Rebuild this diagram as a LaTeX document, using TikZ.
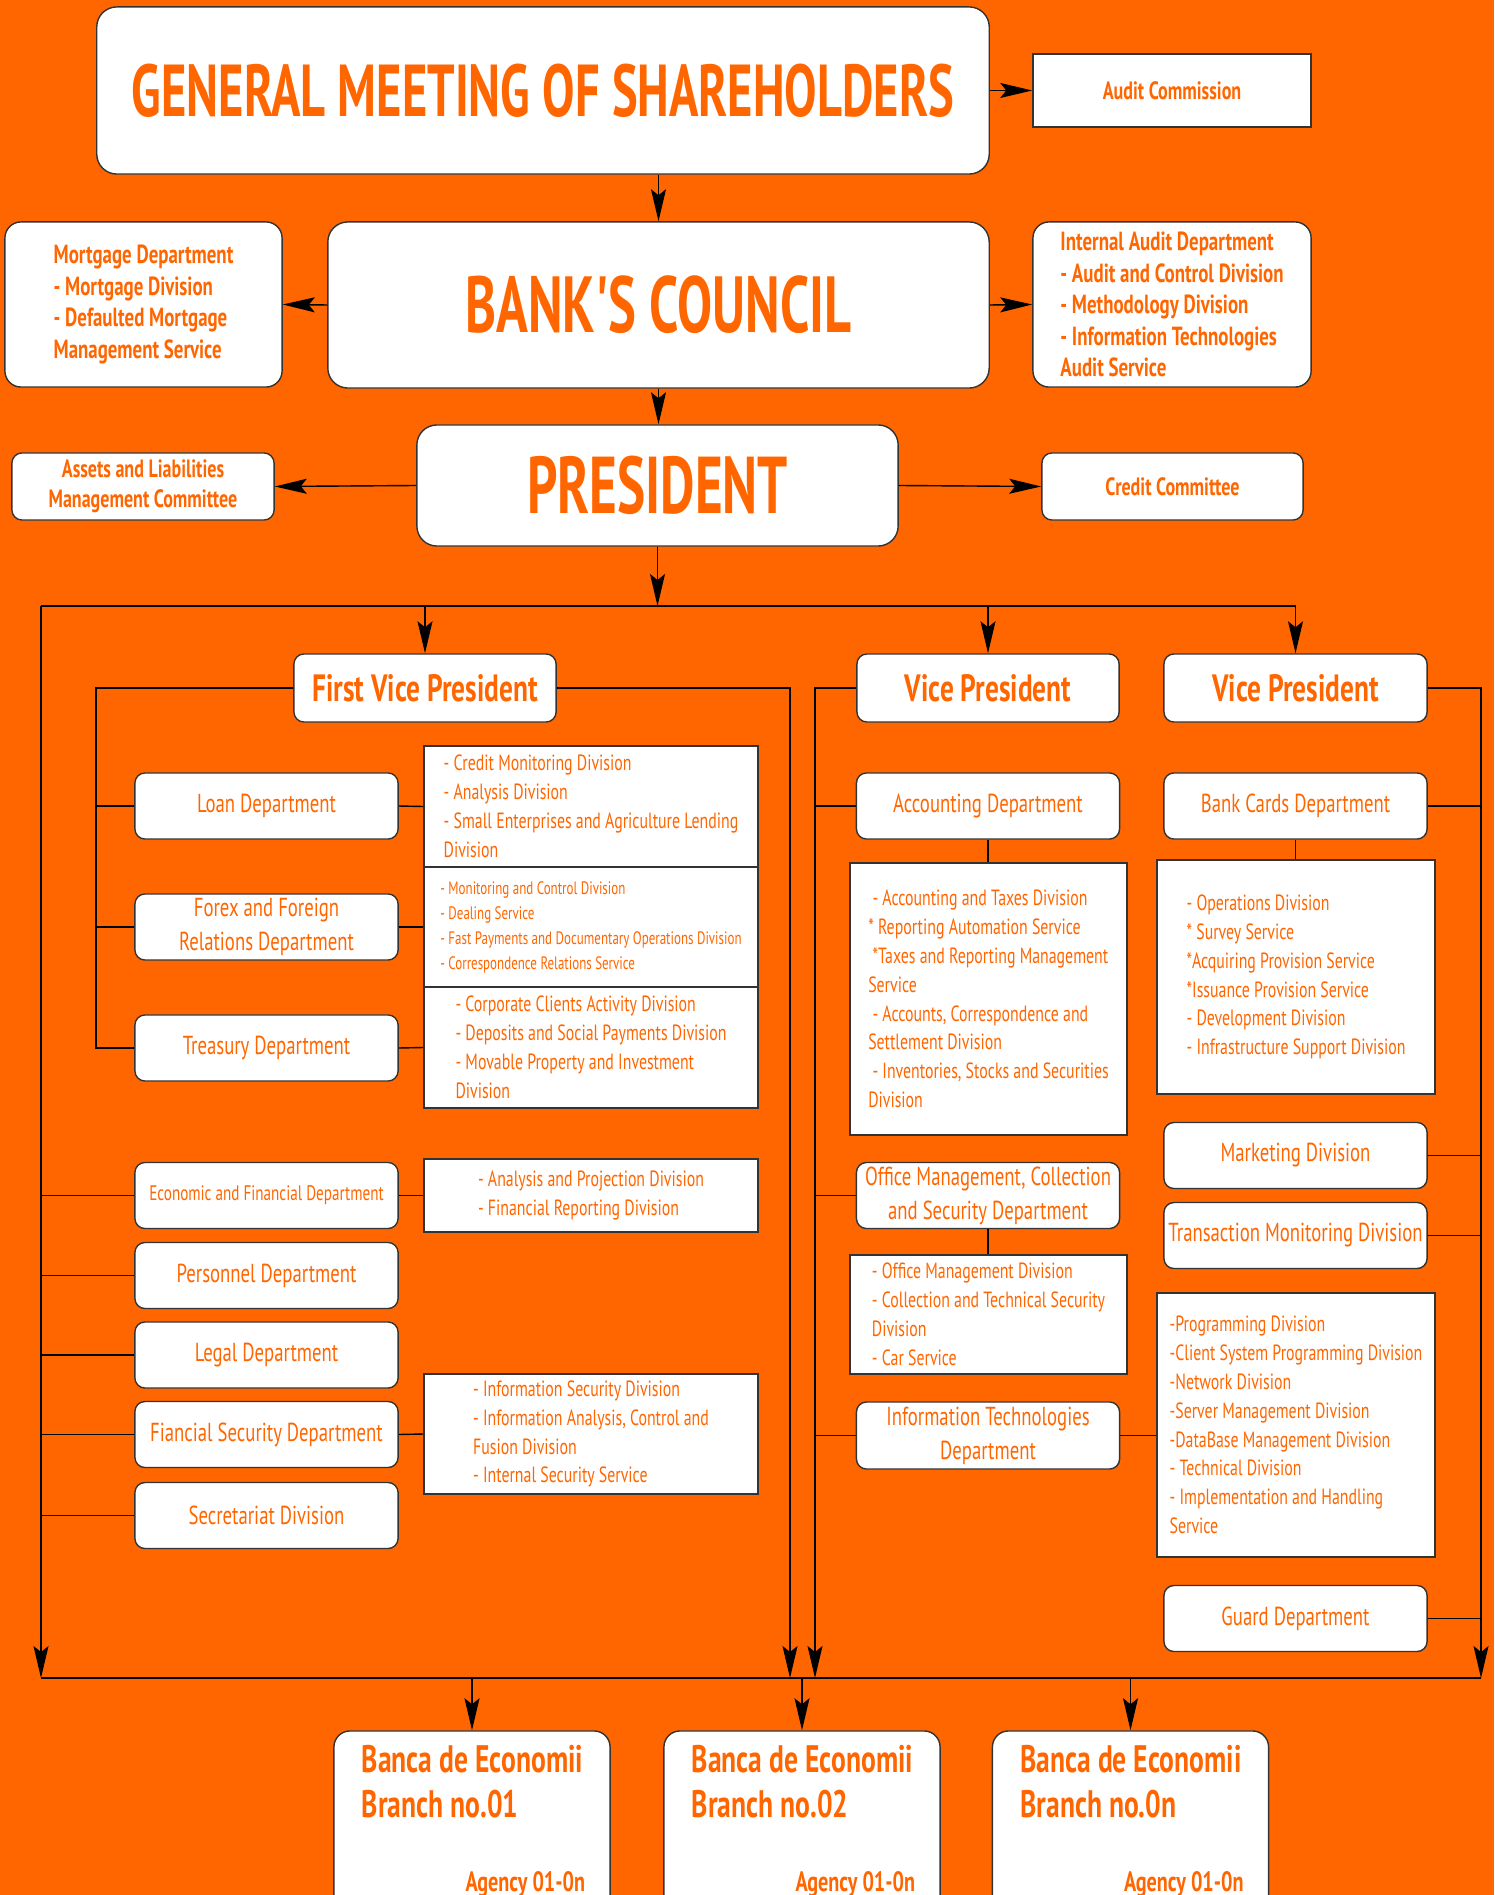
\documentclass[tikz,border=0pt]{standalone}
\usepackage{fontspec}
\setmainfont[FakeStretch=0.72]{PT Sans}
\newfontfamily\titlefont[FakeStretch=0.66]{PT Sans}
\usetikzlibrary{arrows.meta}

\definecolor{bgorange}{HTML}{FF6600}
\definecolor{txtorange}{HTML}{FF6600}
\definecolor{boxline}{HTML}{333333}

\newcommand\fsz[2]{\fontsize{#1}{#2}\selectfont}

\tikzset{
  box/.style={draw=boxline, fill=white, line width=0.4pt, inner sep=0pt, text=txtorange, align=center},
  bigbox/.style={box, rounded corners=2mm, font=\titlefont\bfseries\fsz{7.35mm}{7.5mm}},
  sidebox/.style={box, rounded corners=1.6mm, align=left, font=\bfseries\fsz{2.62mm}{3.15mm}},
  smallbox/.style={box, minimum height=0.67cm, font=\bfseries\fsz{2.5mm}{3.0mm}},
  deptbox/.style={box, rounded corners=1mm, minimum width=2.63cm, minimum height=0.66cm, font=\fsz{2.6mm}{3.4mm}},
  vpbox/.style={deptbox, minimum height=0.68cm, font=\bfseries\fsz{3.8mm}{4mm}},
  listbox/.style={box, align=left, font=\fsz{2.2mm}{2.88mm}},
  branchbox/.style={box, rounded corners=1.6mm, minimum width=2.76cm, minimum height=1.99cm},
  branchtxt/.style={text=txtorange, inner sep=0pt, align=left, anchor=north west, font=\bfseries\fsz{3.83mm}{4.5mm}},
  agencytxt/.style={text=txtorange, inner sep=0pt, anchor=base east, font=\bfseries\fsz{2.8mm}{3mm}},
  wire/.style={line width=0.4pt},
  arr/.style={wire, -{Stealth[length=3.2mm, width=1.5mm, inset=0.6mm]}}
}

\begin{document}
\begin{tikzpicture}[x=0.01cm, y=-0.01cm]
\useasboundingbox (0,0) rectangle (1494,1895);
\clip (0,0) rectangle (1494,1895);
\fill[bgorange] (0,0) rectangle (1494,1895);

% top of the hierarchy
\node[bigbox, minimum width=8.92cm, minimum height=1.67cm] (gms) at (543,90.5) {GENERAL MEETING OF SHAREHOLDERS};
\node[smallbox, minimum width=2.78cm, minimum height=0.73cm] (audit) at (1172,90.5) {Audit Commission};
\node[bigbox, minimum width=6.61cm, minimum height=1.66cm, font=\titlefont\bfseries\fsz{7.95mm}{8mm}] (council) at (658.5,305) {BANK'S COUNCIL};
\node[sidebox, minimum width=2.77cm, minimum height=1.65cm] (mortgage) at (143.5,304.5) {Mortgage Department\\- Mortgage Division\\- Defaulted Mortgage\\Management Service};
\node[sidebox, minimum width=2.78cm, minimum height=1.65cm] (intaudit) at (1172,304.5) {Internal Audit Department\\- Audit and Control Division\\- Methodology Division\\- Information Technologies\\Audit Service};
\node[bigbox, minimum width=4.81cm, minimum height=1.21cm, font=\titlefont\bfseries\fsz{8.05mm}{8mm}] (president) at (657.5,485.5) {PRESIDENT};
\node[smallbox, rounded corners=1mm, minimum width=2.62cm] (assets) at (143,486.5) {Assets and Liabilities\\Management Committee};
\node[smallbox, rounded corners=1mm, minimum width=2.61cm] (credit) at (1172.5,486.5) {Credit Committee};

\draw[arr] (gms.east) -- (audit.west);
\draw[arr] (gms.south -| council.north) -- (council.north);
\draw[arr] (council.west) -- (mortgage.east);
\draw[arr] (council.east) -- (intaudit.west);
\draw[arr] (council.south) -- (council.south |- president.north);
\draw[arr] (president.west) -- (assets.east);
\draw[arr] (president.east) -- (credit.west);

% vice presidents
\node[vpbox, minimum width=2.62cm] (fvp) at (425,688) {First Vice President};
\node[vpbox, minimum width=2.62cm] (vp1) at (988,688) {Vice President};
\node[vpbox, minimum width=2.63cm] (vp2) at (1295.5,688) {Vice President};

\coordinate (busL) at (41,606);
\coordinate (busR) at (1296,606);
\draw[arr] (president.south) -- (president.south |- busL);
\draw[wire] (busL) -- (busR);
\draw[arr] (fvp.north |- busL) -- (fvp.north);
\draw[arr] (vp1.north |- busL) -- (vp1.north);
\draw[arr] (vp2.north |- busL) -- (vp2.north);

% first vice president
\node[deptbox] (loan) at (266.5,806) {Loan Department};
\node[deptbox] (forex) at (266.5,927) {Forex and Foreign\\Relations Department};
\node[deptbox] (treasury) at (266.5,1048) {Treasury Department};
\node[deptbox, font=\fsz{2.1mm}{2.6mm}] (econ) at (266.5,1195.5) {Economic and Financial Department};
\node[deptbox] (personnel) at (266.5,1275.5) {Personnel Department};
\node[deptbox] (legal) at (266.5,1355) {Legal Department};
\node[deptbox] (finsec) at (266.5,1434.5) {Fiancial Security Department};
\node[deptbox] (secret) at (266.5,1515.5) {Secretariat Division};

\node[listbox, minimum width=3.34cm, minimum height=1.21cm] (loandet) at (591,806.5) {- Credit Monitoring Division\\- Analysis Division\\- Small Enterprises and Agriculture Lending\\Division};
\node[listbox, minimum width=3.34cm, minimum height=1.2cm, font=\fsz{1.8mm}{2.5mm}] (forexdet) at (591,927) {- Monitoring and Control Division\\- Dealing Service\\- Fast Payments and Documentary Operations Division\\- Correspondence Relations Service};
\node[listbox, minimum width=3.34cm, minimum height=1.21cm] (treasdet) at (591,1047.5) {- Corporate Clients Activity Division\\- Deposits and Social Payments Division\\- Movable Property and Investment\\Division};
\node[listbox, minimum width=3.34cm, minimum height=0.73cm] (econdet) at (591,1195.5) {- Analysis and Projection Division\\- Financial Reporting Division};
\node[listbox, minimum width=3.34cm, minimum height=1.2cm] (finsecdet) at (591,1434) {- Information Security Division\\- Information Analysis, Control and\\Fusion Division\\- Internal Security Service};

\coordinate (fvpspine) at (96,688);
\draw[wire] (fvp.west) -| (fvpspine |- treasury.west) -- (treasury.west);
\draw[wire] (fvpspine |- loan.west) -- (loan.west);
\draw[wire] (fvpspine |- forex.west) -- (forex.west);
\foreach \d in {econ,personnel,legal,finsec,secret}
  \draw[wire] (busL |- \d.west) -- (\d.west);
\foreach \d/\t in {loan/loandet,forex/forexdet,treasury/treasdet,econ/econdet,finsec/finsecdet}
  \draw[wire] (\d.east) -- (\t.west);

% vice president (accounting)
\node[deptbox] (acc) at (988,806) {Accounting Department};
\node[deptbox] (office) at (988,1195.5) {Office Management, Collection\\and Security Department};
\node[deptbox, minimum height=0.67cm] (itdept) at (988,1435.5) {Information Technologies\\Department};
\node[listbox, minimum width=2.77cm, minimum height=2.72cm] (accdet) at (988.5,999) {~- Accounting and Taxes Division\\* Reporting Automation Service\\~*Taxes and Reporting Management\\Service\\~- Accounts, Correspondence and\\Settlement Division\\~- Inventories, Stocks and Securities\\Division};
\node[listbox, minimum width=2.77cm, minimum height=1.19cm] (officedet) at (988.5,1314.5) {- Office Management Division\\- Collection and Technical Security\\Division\\- Car Service};

\draw[wire] (acc.south) -- (acc.south |- accdet.north);
\draw[wire] (office.south) -- (office.south |- officedet.north);

% vice president (cards, IT)
\node[deptbox] (cards) at (1295.5,806) {Bank Cards Department};
\node[listbox, minimum width=2.78cm, minimum height=2.34cm] (cardsdet) at (1296,977) {- Operations Division\\* Survey Service\\*Acquiring Provision Service\\*Issuance Provision Service\\- Development Division\\- Infrastructure Support Division};
\node[deptbox] (marketing) at (1295.5,1155.5) {Marketing Division};
\node[deptbox] (transmon) at (1295.5,1235.5) {Transaction Monitoring Division};
\node[listbox, minimum width=2.78cm, minimum height=2.64cm] (itdet) at (1296,1425) {-Programming Division\\-Client System Programming Division\\-Network Division\\-Server Management Division\\-DataBase Management Division\\- Technical Division\\- Implementation and Handling\\Service};
\node[deptbox] (guard) at (1295.5,1618.5) {Guard Department};

\draw[wire] (cards.south) -- (cards.south |- cardsdet.north);
\draw[wire] (itdept.east) -- (itdept.east -| itdet.west);

% collecting lines and branches
\coordinate (botL) at (41,1678);
\coordinate (botR) at (1481,1678);
\coordinate (fvpR) at (790,1678);
\coordinate (vp1R) at (815,1678);
\draw[arr] (busL) -- (botL);
\draw[arr] (fvp.east) -| (fvpR);
\draw[arr] (vp1.west) -| (vp1R);
\draw[arr] (vp2.east) -| (botR);
\foreach \d in {acc,office,itdept}
  \draw[wire] (vp1R |- \d.west) -- (\d.west);
\foreach \d in {cards,marketing,transmon,guard}
  \draw[wire] (\d.east) -- (\d.east -| botR);
\draw[wire] (botL) -- (botR);

\node[branchbox] (b1) at (472,1830.5) {};
\node[branchbox] (b2) at (802,1830.5) {};
\node[branchbox] (b3) at (1130.5,1830.5) {};
\foreach \b/\n in {b1/01,b2/02,b3/0n} {
  \node[branchtxt] (\b name) at ([shift={(28,14)}]\b.north west) {Banca de Economii\\Branch no.\n};
  \node[agencytxt] (\b agency) at ([shift={(-25,161)}]\b.north east) {Agency 01-0n};
  \draw[arr] (\b.north |- botL) -- (\b.north);
}
\end{tikzpicture}
\end{document}
